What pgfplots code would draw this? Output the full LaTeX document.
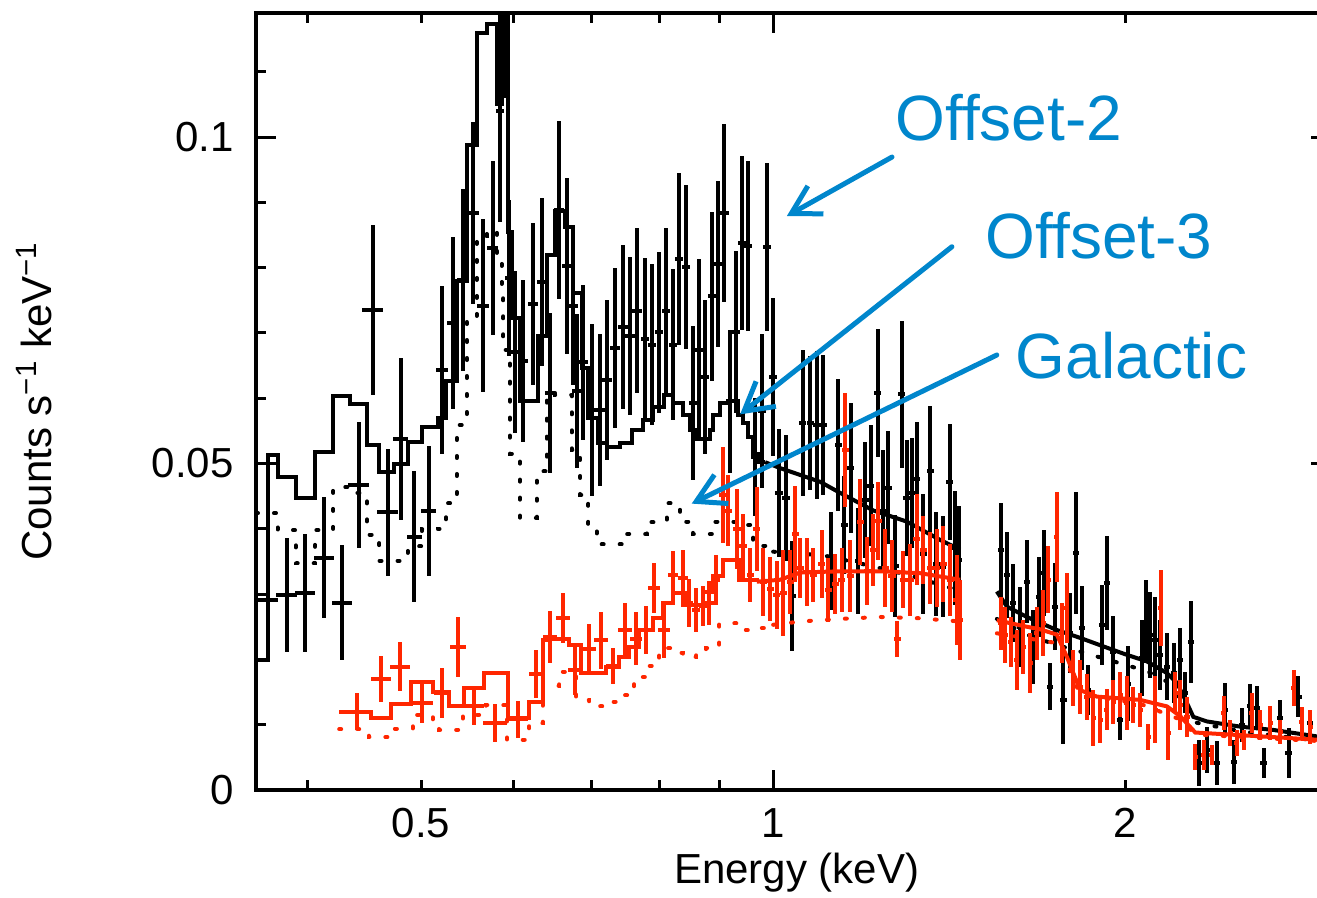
\documentclass[border=0pt]{standalone}
\usepackage{fontspec}
\setmainfont{Liberation Sans}
\usepackage{pgfplots}
\pgfplotsset{compat=1.18}
\usepackage{pgfplotstable}
\usetikzlibrary{arrows.meta}

\definecolor{annot}{RGB}{0,134,204}
\definecolor{specred}{RGB}{255,38,0}

% ---------- Offset-2 spectrum (black): E [keV], rate, rel. x error, y error
\pgfplotstableread{
E v ex ey
0.3696 0.0291 0.020 0.0090
0.3837 0.0299 0.020 0.0087
0.3980 0.0302 0.020 0.0090
0.4132 0.0356 0.020 0.0093
0.4279 0.0287 0.020 0.0088
0.4420 0.0467 0.020 0.0097
0.4544 0.0735 0.020 0.0130
0.4681 0.0425 0.020 0.0098
0.4805 0.0537 0.015 0.0124
0.4933 0.0388 0.015 0.0100
0.5076 0.0427 0.015 0.0100
0.5212 0.0643 0.012 0.0129
0.5321 0.0715 0.012 0.0132
0.5427 0.0781 0.012 0.0139
0.5535 0.0884 0.012 0.0139
0.5644 0.0742 0.012 0.0132
0.5755 0.0830 0.010 0.0133
0.5839 0.1040 0.008 0.0170
0.5892 0.1250 0.008 0.0190
0.5944 0.0784 0.008 0.0120
0.6015 0.0671 0.010 0.0124
0.6114 0.0657 0.010 0.0124
0.6229 0.0745 0.010 0.0124
0.6341 0.0778 0.010 0.0129
0.6445 0.0608 0.010 0.0123
0.6560 0.0888 0.010 0.0136
0.6661 0.0803 0.010 0.0135
0.6738 0.0741 0.010 0.0121
0.6798 0.0611 0.010 0.0118
0.6883 0.0655 0.010 0.0119
0.6998 0.0582 0.010 0.0132
0.7112 0.0582 0.010 0.0116
0.7207 0.0628 0.010 0.0123
0.7326 0.0677 0.010 0.0123
0.7438 0.0709 0.010 0.0126
0.7545 0.0696 0.010 0.0121
0.7655 0.0734 0.010 0.0126
0.7773 0.0690 0.008 0.0124
0.7879 0.0682 0.008 0.0123
0.7990 0.0701 0.008 0.0123
0.8100 0.0734 0.008 0.0126
0.8218 0.0682 0.008 0.0116
0.8315 0.0813 0.008 0.0132
0.8425 0.0801 0.008 0.0126
0.8536 0.0592 0.008 0.0118
0.8647 0.0674 0.008 0.0139
0.8750 0.0633 0.008 0.0118
0.8868 0.0756 0.008 0.0129
0.8980 0.0805 0.008 0.0127
0.9087 0.0884 0.008 0.0136
0.9188 0.0595 0.008 0.0110
0.9297 0.0701 0.008 0.0124
0.9402 0.0838 0.008 0.0133
0.9514 0.0833 0.008 0.0130
0.9652 0.0510 0.008 0.0090
0.9780 0.0581 0.008 0.0118
0.9888 0.0832 0.008 0.0129
1.0006 0.0633 0.008 0.0121
1.0125 0.0455 0.008 0.0098
1.0259 0.0447 0.008 0.0096
1.0375 0.0297 0.008 0.0084
1.0603 0.0562 0.007 0.0112
1.0756 0.0562 0.007 0.0103
1.0899 0.0559 0.007 0.0113
1.1042 0.0559 0.007 0.0107
1.1205 0.0351 0.007 0.0075
1.1373 0.0529 0.007 0.0101
1.1501 0.0406 0.007 0.0075
1.1654 0.0493 0.007 0.0100
1.1830 0.0351 0.007 0.0081
1.1988 0.0444 0.007 0.0089
1.2123 0.0466 0.007 0.0093
1.2282 0.0608 0.007 0.0098
1.2413 0.0428 0.007 0.0092
1.2551 0.0463 0.007 0.0087
1.2718 0.0343 0.007 0.0078
1.2887 0.0606 0.007 0.0113
1.3014 0.0447 0.007 0.0089
1.3143 0.0455 0.007 0.0084
1.3273 0.0477 0.007 0.0086
1.3446 0.0362 0.007 0.0092
1.3625 0.0488 0.007 0.0100
1.3787 0.0346 0.007 0.0080
1.3970 0.0342 0.007 0.0077
1.4153 0.0472 0.007 0.0089
1.4312 0.0371 0.007 0.0087
1.4412 0.0352 0.007 0.0083
1.5660 0.0368 0.006 0.0072
1.5846 0.0329 0.006 0.0066
1.6034 0.0286 0.006 0.0060
1.6268 0.0250 0.006 0.0061
1.6483 0.0319 0.006 0.0064
1.6699 0.0219 0.006 0.0057
1.6898 0.0296 0.006 0.0061
1.7055 0.0332 0.006 0.0066
1.7258 0.0158 0.006 0.0036
1.7429 0.0281 0.006 0.0066
1.7716 0.0138 0.006 0.0067
1.7951 0.0240 0.006 0.0061
1.8165 0.0363 0.006 0.0093
1.8368 0.0248 0.006 0.0064
1.8608 0.0153 0.006 0.0038
1.9104 0.0253 0.006 0.0061
1.9294 0.0317 0.006 0.0072
1.9522 0.0212 0.006 0.0054
1.9805 0.0107 0.006 0.0031
2.0131 0.0163 0.006 0.0057
2.0670 0.0202 0.006 0.0058
2.0846 0.0258 0.006 0.0064
2.1011 0.0237 0.006 0.0066
2.1219 0.0230 0.006 0.0066
2.1429 0.0207 0.006 0.0054
2.1720 0.0189 0.006 0.0051
2.2004 0.0179 0.006 0.0046
2.2265 0.0199 0.006 0.0049
2.2518 0.0149 0.006 0.0031
2.2772 0.0227 0.006 0.0063
2.3116 0.0041 0.006 0.0035
2.3496 0.0061 0.006 0.0035
2.3968 0.0041 0.006 0.0034
2.4363 0.0123 0.006 0.0041
2.4765 0.0043 0.006 0.0034
2.5173 0.0100 0.006 0.0026
2.5588 0.0128 0.006 0.0035
2.5928 0.0126 0.006 0.0034
2.6268 0.0041 0.006 0.0023
2.7143 0.0110 0.006 0.0028
2.7592 0.0057 0.006 0.0038
2.8140 0.0143 0.006 0.0031
2.8796 0.0103 0.006 0.0020
}\blackdata

% ---------- Offset-3 spectrum (red)
\pgfplotstableread{
E v ex ey
0.4406 0.0120 0.030 0.0028
0.4620 0.0170 0.020 0.0035
0.4799 0.0189 0.020 0.0038
0.5006 0.0134 0.022 0.0031
0.5207 0.0149 0.016 0.0038
0.5374 0.0219 0.016 0.0046
0.5552 0.0128 0.020 0.0029
0.5786 0.0102 0.024 0.0029
0.6047 0.0108 0.020 0.0029
0.6271 0.0178 0.014 0.0037
0.6445 0.0234 0.014 0.0040
0.6609 0.0263 0.014 0.0038
0.6775 0.0184 0.014 0.0038
0.6956 0.0216 0.014 0.0038
0.7126 0.0229 0.014 0.0044
0.7301 0.0190 0.014 0.0028
0.7476 0.0245 0.014 0.0041
0.7634 0.0232 0.012 0.0040
0.7788 0.0245 0.012 0.0037
0.7916 0.0309 0.012 0.0038
0.8072 0.0245 0.012 0.0043
0.8208 0.0329 0.010 0.0037
0.8371 0.0324 0.010 0.0043
0.8481 0.0286 0.008 0.0037
0.8594 0.0276 0.008 0.0034
0.8708 0.0282 0.008 0.0031
0.8822 0.0286 0.008 0.0034
0.8939 0.0322 0.008 0.0038
0.9068 0.0452 0.008 0.0074
0.9158 0.0428 0.008 0.0054
0.9310 0.0400 0.008 0.0061
0.9432 0.0373 0.008 0.0049
0.9557 0.0329 0.007 0.0041
0.9684 0.0400 0.007 0.0064
0.9811 0.0319 0.007 0.0052
0.9941 0.0308 0.007 0.0049
1.0073 0.0299 0.007 0.0052
1.0205 0.0302 0.007 0.0066
1.0340 0.0319 0.007 0.0049
1.0443 0.0392 0.007 0.0074
1.0546 0.0340 0.007 0.0046
1.0686 0.0334 0.007 0.0052
1.0826 0.0329 0.007 0.0041
1.1006 0.0346 0.007 0.0052
1.1150 0.0306 0.007 0.0049
1.1299 0.0316 0.007 0.0046
1.1449 0.0322 0.007 0.0049
1.1524 0.0521 0.007 0.0087
1.1637 0.0328 0.007 0.0055
1.1868 0.0411 0.007 0.0066
1.2035 0.0335 0.007 0.0052
1.2185 0.0368 0.007 0.0055
1.2304 0.0412 0.007 0.0060
1.2470 0.0340 0.007 0.0060
1.2638 0.0328 0.007 0.0055
1.2765 0.0231 0.007 0.0028
1.2925 0.0322 0.007 0.0044
1.3100 0.0322 0.007 0.0055
1.3273 0.0384 0.007 0.0070
1.3446 0.0368 0.007 0.0052
1.3625 0.0340 0.007 0.0055
1.3805 0.0340 0.007 0.0060
1.3986 0.0346 0.007 0.0058
1.4172 0.0322 0.007 0.0055
1.4360 0.0291 0.007 0.0069
1.4454 0.0260 0.005 0.0061
1.5660 0.0255 0.005 0.0041
1.5793 0.0237 0.005 0.0043
1.5972 0.0227 0.005 0.0038
1.6163 0.0199 0.005 0.0046
1.6373 0.0219 0.005 0.0041
1.6590 0.0195 0.005 0.0046
1.6811 0.0240 0.005 0.0041
1.7031 0.0256 0.005 0.0051
1.7200 0.0322 0.005 0.0051
1.7487 0.0388 0.005 0.0069
1.7660 0.0240 0.005 0.0046
1.7835 0.0279 0.005 0.0054
1.8068 0.0172 0.005 0.0043
1.8307 0.0158 0.005 0.0041
1.8549 0.0142 0.005 0.0035
1.8792 0.0110 0.005 0.0043
1.9042 0.0107 0.005 0.0035
1.9294 0.0123 0.005 0.0031
1.9545 0.0135 0.005 0.0034
1.9805 0.0146 0.005 0.0034
2.0069 0.0133 0.005 0.0041
2.0333 0.0130 0.005 0.0028
2.0601 0.0123 0.005 0.0026
2.0940 0.0081 0.005 0.0020
2.1219 0.0123 0.005 0.0051
2.1458 0.0279 0.005 0.0058
2.1782 0.0087 0.005 0.0041
2.2077 0.0149 0.005 0.0031
2.2295 0.0130 0.005 0.0038
2.2593 0.0112 0.005 0.0031
2.2965 0.0051 0.005 0.0020
2.3339 0.0054 0.005 0.0023
2.3729 0.0054 0.005 0.0015
2.4281 0.0118 0.005 0.0026
2.4604 0.0087 0.005 0.0020
2.4926 0.0072 0.005 0.0020
2.5253 0.0077 0.005 0.0015
2.5674 0.0118 0.005 0.0031
2.6098 0.0100 0.005 0.0023
2.6614 0.0103 0.005 0.0026
2.7143 0.0089 0.005 0.0018
2.7865 0.0156 0.005 0.0028
2.8329 0.0104 0.005 0.0023
2.8796 0.0097 0.005 0.0026
}\reddata

% ---------- folded models, binned part (step curves)
\pgfplotstableread{
E v
0.3612 0.0199
0.3698 0.0513
0.3770 0.0480
0.3907 0.0447
0.4058 0.0518
0.4205 0.0603
0.4348 0.0591
0.4494 0.0528
0.4604 0.0487
0.4742 0.0500
0.4869 0.0533
0.5006 0.0556
0.5166 0.0569
0.5251 0.0627
0.5363 0.0780
0.5470 0.0988
0.5578 0.1159
0.5689 0.1173
0.5802 0.1051
0.5859 0.1600
0.5936 0.0855
0.5976 0.0723
0.6074 0.0595
0.6299 0.0696
0.6404 0.0819
0.6510 0.0887
0.6639 0.0863
0.6749 0.0761
0.6861 0.0646
0.6950 0.0570
0.7088 0.0532
0.7207 0.0526
0.7398 0.0532
0.7570 0.0551
0.7740 0.0567
0.7894 0.0587
0.8067 0.0605
0.8213 0.0593
0.8381 0.0575
0.8491 0.0551
0.8603 0.0537
0.8834 0.0551
0.8891 0.0575
0.9010 0.0592
0.9158 0.0595
0.9340 0.0575
0.9432 0.0562
0.9525 0.0540
0.9619 0.0515
0.9715 0.0502
0.9844 0.0502
}\blackmodelstep

\pgfplotstableread{
E v
0.9844 0.0502
1.0139 0.0493
1.0970 0.0472
1.1411 0.0455
1.2185 0.0428
1.3014 0.0411
1.3895 0.0383
1.4454 0.0368
}\blackmodelmid

\pgfplotstableread{
E v
1.5537 0.0304
1.5846 0.0281
1.6483 0.0265
1.6921 0.0256
1.7487 0.0245
1.8307 0.0233
1.9294 0.0218
2.0069 0.0207
2.0874 0.0197
2.1720 0.0179
2.2152 0.0164
2.2593 0.0133
2.2875 0.0112
2.3496 0.0105
2.5089 0.0097
2.6771 0.0092
2.9196 0.0082
3.0012 0.0078
}\blackmodelhigh

\pgfplotstableread{
E v
0.3612 0.0424
0.3770 0.0398
0.3907 0.0347
0.4058 0.0398
0.4205 0.0464
0.4348 0.0455
0.4494 0.0391
0.4604 0.0351
0.4742 0.0351
0.4869 0.0373
0.5006 0.0399
0.5166 0.0400
0.5251 0.0439
0.5363 0.0559
0.5470 0.0723
0.5578 0.0849
0.5689 0.0857
0.5802 0.0819
0.5859 0.0756
0.5878 0.0674
0.5956 0.0515
0.6074 0.0417
0.6280 0.0488
0.6404 0.0608
0.6510 0.0605
0.6728 0.0521
0.6839 0.0452
0.6950 0.0406
0.7066 0.0376
0.7494 0.0392
0.7796 0.0410
0.8110 0.0439
0.8326 0.0411
0.8541 0.0392
0.8891 0.0411
0.9432 0.0406
0.9619 0.0374
1.0000 0.0365
1.0000 0.0365
}\blackgalstep

\pgfplotstableread{
E v
1.0000 0.0365
1.0500 0.0362
1.1000 0.0360
1.2000 0.0345
1.3000 0.0330
1.4454 0.0305
}\blackgalmid

\pgfplotstableread{
E v
1.5537 0.0262
1.6483 0.0238
1.7487 0.0222
1.8307 0.0212
1.9294 0.0200
2.0874 0.0182
2.1720 0.0166
2.2593 0.0124
2.2875 0.0104
2.5089 0.0090
3.0012 0.0073
}\blackgalhigh

\pgfplotstableread{
E v
0.4256 0.0120
0.4529 0.0110
0.4712 0.0132
0.4901 0.0166
0.5116 0.0150
0.5285 0.0128
0.5444 0.0156
0.5662 0.0179
0.5929 0.0110
0.6187 0.0135
0.6353 0.0230
0.6436 0.0232
0.6696 0.0222
0.6852 0.0179
0.7197 0.0189
0.7387 0.0204
0.7534 0.0219
0.7684 0.0245
0.7890 0.0263
0.8047 0.0286
0.8208 0.0301
0.8425 0.0283
0.8708 0.0303
0.8880 0.0327
0.9057 0.0352
0.9358 0.0322
0.9684 0.0319
}\redmodelstep

\pgfplotstableread{
E v
0.9684 0.0319
1.0139 0.0322
1.0546 0.0333
1.1411 0.0335
1.2347 0.0335
1.3360 0.0332
1.4454 0.0322
}\redmodelmid

\pgfplotstableread{
E v
1.5537 0.0260
1.6483 0.0250
1.6921 0.0246
1.7487 0.0238
1.7835 0.0204
1.8307 0.0153
1.8919 0.0143
2.0601 0.0138
2.1720 0.0128
2.2295 0.0113
2.2965 0.0088
2.5089 0.0084
2.9196 0.0077
3.0012 0.0076
}\redmodelhigh

\pgfplotstableread{
E v
0.4255 0.0093
0.4510 0.0081
0.4693 0.0094
0.4917 0.0115
0.5116 0.0100
0.5180 0.0092
0.5427 0.0115
0.5681 0.0130
0.5921 0.0077
0.6187 0.0102
0.6353 0.0160
0.6564 0.0181
0.6785 0.0138
0.6965 0.0128
0.7197 0.0135
0.7339 0.0145
0.7605 0.0173
0.7832 0.0190
0.7995 0.0217
0.8259 0.0210
0.8371 0.0204
0.8594 0.0215
0.8762 0.0217
0.8997 0.0255
0.9352 0.0245
0.9684 0.0248
1.0000 0.0253
}\redgalstep

\pgfplotstableread{
E v
1.0000 0.0253
1.0546 0.0258
1.1411 0.0262
1.2347 0.0265
1.3360 0.0263
1.4454 0.0258
}\redgalmid

\pgfplotstableread{
E v
1.5537 0.0240
1.7487 0.0225
1.7835 0.0195
1.8307 0.0146
2.0601 0.0132
2.2295 0.0108
2.2965 0.0085
3.0012 0.0074
}\redgalhigh

\begin{document}
\begin{tikzpicture}
\begin{scope}
\clip (-128pt,-54pt) rectangle (530.5pt,395pt);
\begin{axis}[
  at={(0,0)}, anchor=south west,
  scale only axis, width=537.5pt, height=388.5pt,
  xmode=log, xmin=0.3612, xmax=3.0,
  ymin=0, ymax=0.119,
  axis line style={line width=2pt},
  tick align=inside,
  major tick length=10pt, minor tick length=5pt,
  every tick/.style={black, line width=1.5pt},
  xtick={1}, xticklabels={1},
  extra x ticks={0.5,2}, extra x tick labels={0.5,2},
  extra x tick style={major tick length=5pt},
  minor xtick={0.4,0.6,0.7,0.8,0.9,3},
  ytick={0,0.05,0.1}, yticklabels={0,0.05,0.1},
  minor ytick={0.01,0.02,0.03,0.04,0.06,0.07,0.08,0.09,0.11},
  /pgf/number format/assume math mode=true,
  tick label style={font=\fontsize{21pt}{25pt}\selectfont, inner sep=0pt},
  xticklabel style={anchor=base, yshift=-24pt},
  yticklabel style={anchor=east, xshift=-11pt},
  every axis x label/.style={at={(axis description cs:0.503,-0.1197)}, anchor=base,
    font=\fontsize{21pt}{25pt}\selectfont},
  every axis y label/.style={at={(axis description cs:-0.2065,0.5)}, rotate=90, anchor=center,
    font=\fontsize{21pt}{25pt}\selectfont},
  xlabel={Energy (keV)},
  ylabel={Counts s\textsuperscript{−1} keV\textsuperscript{−1}},
  model/.style={line width=2pt, line join=miter},
  comp/.style={line width=2pt, line cap=round, dash pattern=on 1pt off 8pt},
  databars/.style={draw=none, mark=none,
    error bars/.cd, x dir=both, x explicit relative, y dir=both, y explicit,
    error mark=none, error bar style={draw=#1, line width=2pt}},
]
% Offset-2: data, model, component
\addplot[databars=black] table[x=E, y=v, x error=ex, y error=ey] {\blackdata};
\addplot[model, black, const plot] table[x=E, y=v] {\blackmodelstep};
\addplot[model, black] table[x=E, y=v] {\blackmodelmid};
\addplot[model, black] table[x=E, y=v] {\blackmodelhigh};
\addplot[comp, black, const plot] table[x=E, y=v] {\blackgalstep};
\addplot[comp, black] table[x=E, y=v] {\blackgalmid};
\addplot[comp, black] table[x=E, y=v] {\blackgalhigh};
% Offset-3: data, model, component
\addplot[databars=specred] table[x=E, y=v, x error=ex, y error=ey] {\reddata};
\addplot[model, specred, const plot] table[x=E, y=v] {\redmodelstep};
\addplot[model, specred] table[x=E, y=v] {\redmodelmid};
\addplot[model, specred] table[x=E, y=v] {\redmodelhigh};
\addplot[comp, specred, const plot] table[x=E, y=v] {\redgalstep};
\addplot[comp, specred] table[x=E, y=v] {\redgalmid};
\addplot[comp, specred] table[x=E, y=v] {\redgalhigh};
% annotations
\begin{scope}[annot, line width=2.5pt, line cap=round, -{Straight Barb[length=14pt, width=16pt]}]
\draw (axis cs:1.2638,0.09694) -- (axis cs:1.0274,0.0879);
\draw (axis cs:1.4220,0.0832) -- (axis cs:0.9371,0.05753);
\draw (axis cs:1.5537,0.06662) -- (axis cs:0.8519,0.04386);
\end{scope}
\begin{scope}[every node/.style={anchor=base west, inner sep=0pt, text=annot, font=\fontsize{32pt}{38pt}\selectfont}]
\node at (axis cs:1.2720,0.09954) {Offset-2};
\node at (axis cs:1.5190,0.08147) {Offset-3};
\node at (axis cs:1.6120,0.06309) {Galactic};
\end{scope}
\end{axis}
\end{scope}
\pgfresetboundingbox
\path[use as bounding box] (-128pt,-54pt) rectangle (530.5pt,395pt);
\end{tikzpicture}
\end{document}
